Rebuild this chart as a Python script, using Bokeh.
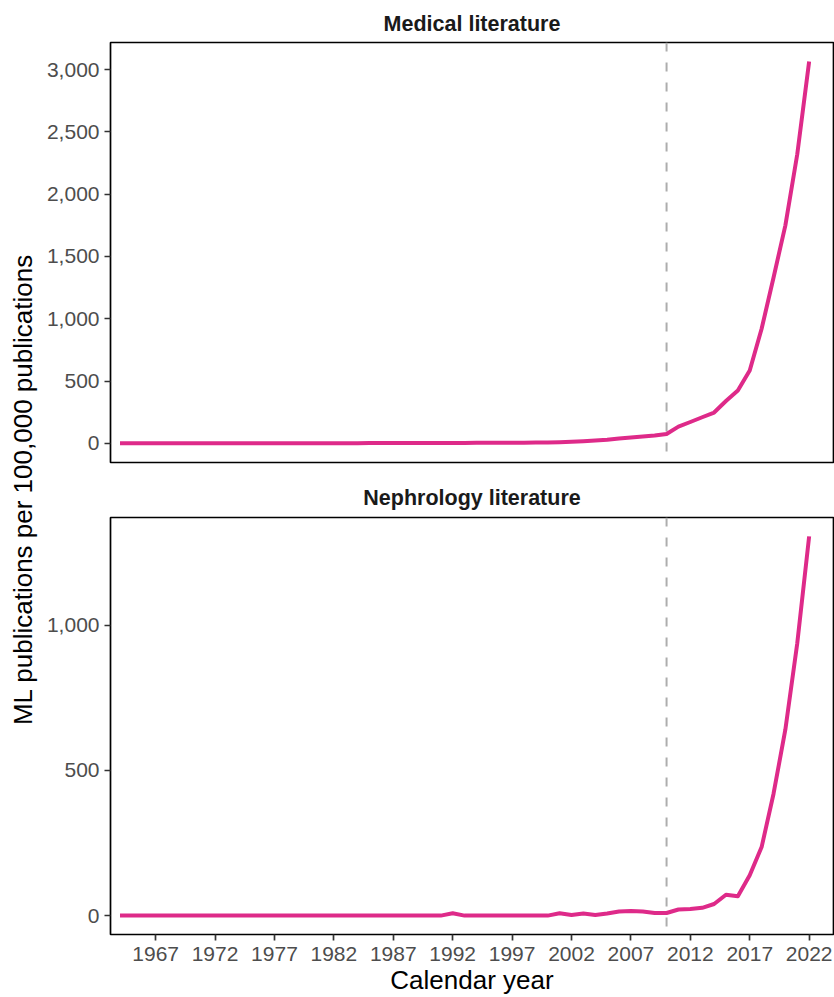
from math import pi
from bokeh.plotting import figure
from bokeh.models import Range1d, FixedTicker, NumeralTickFormatter, Span
from bokeh.layouts import row, column
from bokeh.embed import file_html
from bokeh.resources import INLINE
from bokeh.core.properties import value

# ---------------- data ----------------
years = list(range(1964, 2023))

medical = [
    1.5, 1.2, 1.0, 0.9, 1.0, 1.1, 1.0, 1.1, 1.2, 1.1,      # 1964-1973
    1.3, 1.2, 1.4, 1.3, 1.5, 1.6, 1.7, 1.8, 2.0, 2.1,      # 1974-1983
    2.3, 2.5, 2.6, 2.8, 2.9, 3.0, 3.2, 3.6, 4.0, 4.3,      # 1984-1993
    4.6, 5.0, 5.2, 5.5, 6.0, 7.0, 8.0, 10, 13, 17,         # 1994-2003
    23, 30, 40, 47, 55, 63, 76, 135, 172, 210,             # 2004-2013
    248, 340, 425, 585, 920, 1330, 1750, 2320, 3064,       # 2014-2022
]

nephrology = [
    0, 0, 0, 0, 0, 0, 0, 0, 0, 0,                          # 1964-1973
    0, 0, 0, 0, 0, 0, 0, 0, 0, 0,                          # 1974-1983
    0, 0, 0, 0, 0, 0, 0, 0, 8, 0,                          # 1984-1993
    0, 0, 0, 0, 0, 0, 0, 8, 2, 7,                          # 1994-2003
    2, 7, 14, 16, 14, 9, 9, 21, 23, 27,                    # 2004-2013
    40, 72, 67, 139, 236, 419, 641, 938, 1306,             # 2014-2022
]

x_ticks = [1967, 1972, 1977, 1982, 1987, 1992, 1997, 2002, 2007, 2012, 2017, 2022]
medical_y_ticks = [0, 500, 1000, 1500, 2000, 2500, 3000]
nephrology_y_ticks = [0, 500, 1000]
cutoff_year = 2010
panel_titles = ["Medical literature", "Nephrology literature"]
x_title = "Calendar year"
y_title = "ML publications per 100,000 publications"

# ---------------- style ----------------
FONT = "Liberation Sans"
LINE_COLOR = "#DE2A89"
LABEL_W = 42
PANEL_W = 792
TOP_H = 476
BOTTOM_H = 521
TOTAL_H = TOP_H + BOTTOM_H


def make_panel(title, vals, y_lo, y_hi, yticks, height, mbt, mbb, standoff, show_x):
    p = figure(width=PANEL_W, height=height,
               x_range=Range1d(1963.2, 2024.05), y_range=Range1d(y_lo, y_hi),
               output_backend="svg", toolbar_location=None,
               min_border_left=68, min_border_right=1,
               min_border_top=mbt, min_border_bottom=mbb)
    p.title.text = title
    p.title.align = "center"
    p.title.text_font = FONT
    p.title.text_font_size = "21.5px"
    p.title.text_font_style = "bold"
    p.title.text_color = "#1A1A1A"
    p.title.standoff = standoff
    p.xgrid.visible = False
    p.ygrid.visible = False
    p.background_fill_color = "white"
    p.border_fill_color = "white"
    p.outline_line_color = "black"
    p.outline_line_width = 1.7
    p.outline_line_alpha = 1.0

    span = Span(location=cutoff_year, dimension="height", line_color="#ADADAD",
                line_width=2, line_dash="9 11", level="underlay")
    p.add_layout(span)
    p.line(years, vals, line_color=LINE_COLOR, line_width=4, line_join="round")

    for ax in [p.yaxis[0]] + ([p.xaxis[0]] if show_x else []):
        ax.axis_line_color = None
        ax.major_tick_line_color = "#333333"
        ax.major_tick_line_width = 1.7
        ax.major_tick_out = 6
        ax.major_tick_in = 0
        ax.minor_tick_line_color = None
        ax.major_label_text_font = FONT
        ax.major_label_text_font_size = "21px"
        ax.major_label_text_color = "#4D4D4D"
        ax.major_label_standoff = 5

    p.yaxis.ticker = FixedTicker(ticks=yticks)
    p.yaxis.formatter = NumeralTickFormatter(format="0,0")
    if show_x:
        p.xaxis.ticker = FixedTicker(ticks=x_ticks)
        p.xaxis.major_label_standoff = 6
        p.xaxis.axis_label = x_title
        p.xaxis.axis_label_text_font = FONT
        p.xaxis.axis_label_text_font_size = "26px"
        p.xaxis.axis_label_text_font_style = "normal"
        p.xaxis.axis_label_text_color = "black"
        p.xaxis.axis_label_standoff = 1
    else:
        p.xaxis.visible = False
    return p


top = make_panel(panel_titles[0], medical, -153, 3217, medical_y_ticks,
                 TOP_H, 42, 14, 14, False)
bottom = make_panel(panel_titles[1], nephrology, -65, 1371, nephrology_y_ticks,
                    BOTTOM_H, 41, 61, 15, True)

lab = figure(width=LABEL_W, height=TOTAL_H, x_range=Range1d(0, LABEL_W),
             y_range=Range1d(0, TOTAL_H), x_axis_type=None, y_axis_type=None,
             output_backend="svg", toolbar_location=None,
             min_border_left=0, min_border_right=0, min_border_top=0, min_border_bottom=0)
lab.outline_line_color = None
lab.xgrid.visible = False
lab.ygrid.visible = False
lab.text(x=[22], y=[TOTAL_H - 489], text=[y_title], angle=pi / 2,
         text_align="center", text_baseline="middle",
         text_font=value(FONT), text_font_size="26px", text_color="black")

layout = row(lab, column(top, bottom))

open("out.html", "w").write(file_html(layout, INLINE))
